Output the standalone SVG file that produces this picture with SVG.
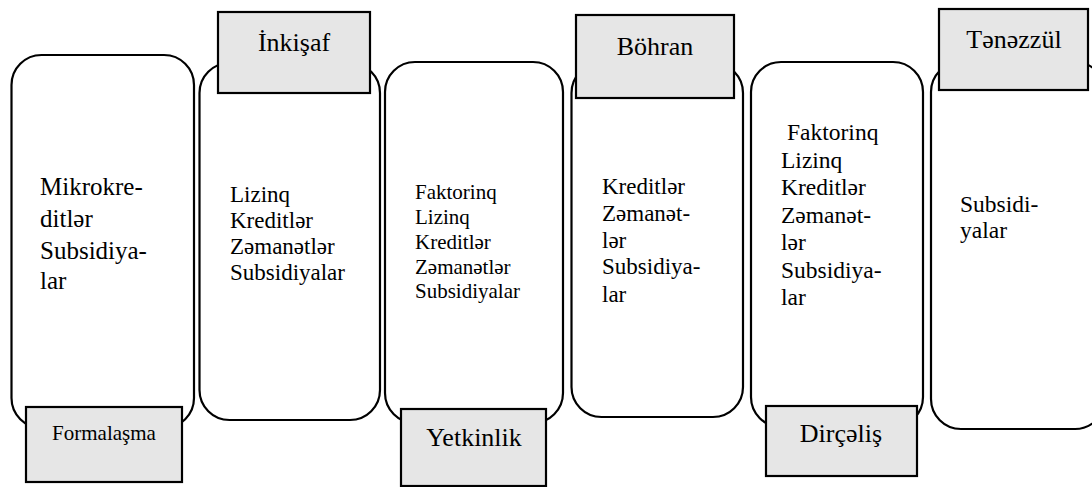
<svg xmlns="http://www.w3.org/2000/svg" width="1092" height="487" viewBox="0 0 1092 487">
<style>
.stage{fill:#fff;stroke:#000;stroke-width:2.2}
.lbl{fill:#e6e6e6;stroke:#000;stroke-width:2.2}
.c{text-anchor:middle}
</style>
<rect width="1092" height="487" fill="#fff"/>
<g id="connectors"></g>
<g fill="#000" font-family="Liberation Serif, Times New Roman, serif">
<g id="stage1">
<rect class="stage" x="11.5" y="55" width="182.5" height="373" rx="30" ry="30"/>
<text font-size="25"><tspan x="40" y="195">Mikrokre-</tspan><tspan x="40" y="227">ditlər</tspan><tspan x="40" y="259">Subsidiya-</tspan><tspan x="40" y="289">lar</tspan></text>
</g>
<g id="stage2">
<rect class="stage" x="199.5" y="63" width="180.5" height="357" rx="30" ry="30"/>
<text font-size="23"><tspan x="230" y="202">Lizinq</tspan><tspan x="230" y="228">Kreditlər</tspan><tspan x="230" y="254">Zəmanətlər</tspan><tspan x="230" y="280">Subsidiyalar</tspan></text>
</g>
<g id="stage3">
<rect class="stage" x="385" y="62" width="178" height="361" rx="30" ry="30"/>
<text font-size="21"><tspan x="415" y="199">Faktorinq</tspan><tspan x="415" y="224">Lizinq</tspan><tspan x="415" y="249">Kreditlər</tspan><tspan x="415" y="274">Zəmanətlər</tspan><tspan x="415" y="298">Subsidiyalar</tspan></text>
</g>
<g id="stage4">
<rect class="stage" x="571.5" y="63" width="171.5" height="354" rx="30" ry="30"/>
<text font-size="23"><tspan x="602" y="194">Kreditlər</tspan><tspan x="602" y="221">Zəmanət-</tspan><tspan x="602" y="248">lər</tspan><tspan x="602" y="274">Subsidiya-</tspan><tspan x="602" y="302">lar</tspan></text>
</g>
<g id="stage5">
<rect class="stage" x="751" y="62" width="172" height="365" rx="30" ry="30"/>
<text font-size="23.5"><tspan x="787" y="140">Faktorinq</tspan><tspan x="781" y="168">Lizinq</tspan><tspan x="781" y="195">Kreditlər</tspan><tspan x="781" y="223">Zəmanət-</tspan><tspan x="781" y="250">lər</tspan><tspan x="781" y="278">Subsidiya-</tspan><tspan x="781" y="305">lar</tspan></text>
</g>
<g id="stage6">
<rect class="stage" x="931" y="62" width="174" height="367" rx="30" ry="30"/>
<text font-size="23.5"><tspan x="960" y="212">Subsidi-</tspan><tspan x="960" y="238">yalar</tspan></text>
</g>
<g id="label-inkisaf">
<rect class="lbl" x="218" y="12" width="152" height="81"/>
<text class="c" x="294" y="51" font-size="26">İnkişaf</text>
</g>
<g id="label-bohran">
<rect class="lbl" x="576" y="15" width="158" height="83"/>
<text class="c" x="655" y="55" font-size="26">Böhran</text>
</g>
<g id="label-tenezzul">
<rect class="lbl" x="939" y="9" width="149" height="81"/>
<text class="c" x="1014" y="48" font-size="26">Tənəzzül</text>
</g>
<g id="label-formalasma">
<rect class="lbl" x="26" y="407" width="156" height="75"/>
<text class="c" x="104" y="440" font-size="21">Formalaşma</text>
</g>
<g id="label-yetkinlik">
<rect class="lbl" x="401" y="409" width="145" height="77"/>
<text class="c" x="474" y="446" font-size="26">Yetkinlik</text>
</g>
<g id="label-dircelis">
<rect class="lbl" x="766" y="406" width="151" height="70"/>
<text class="c" x="841" y="442" font-size="26">Dirçəliş</text>
</g>
</g>
</svg>
